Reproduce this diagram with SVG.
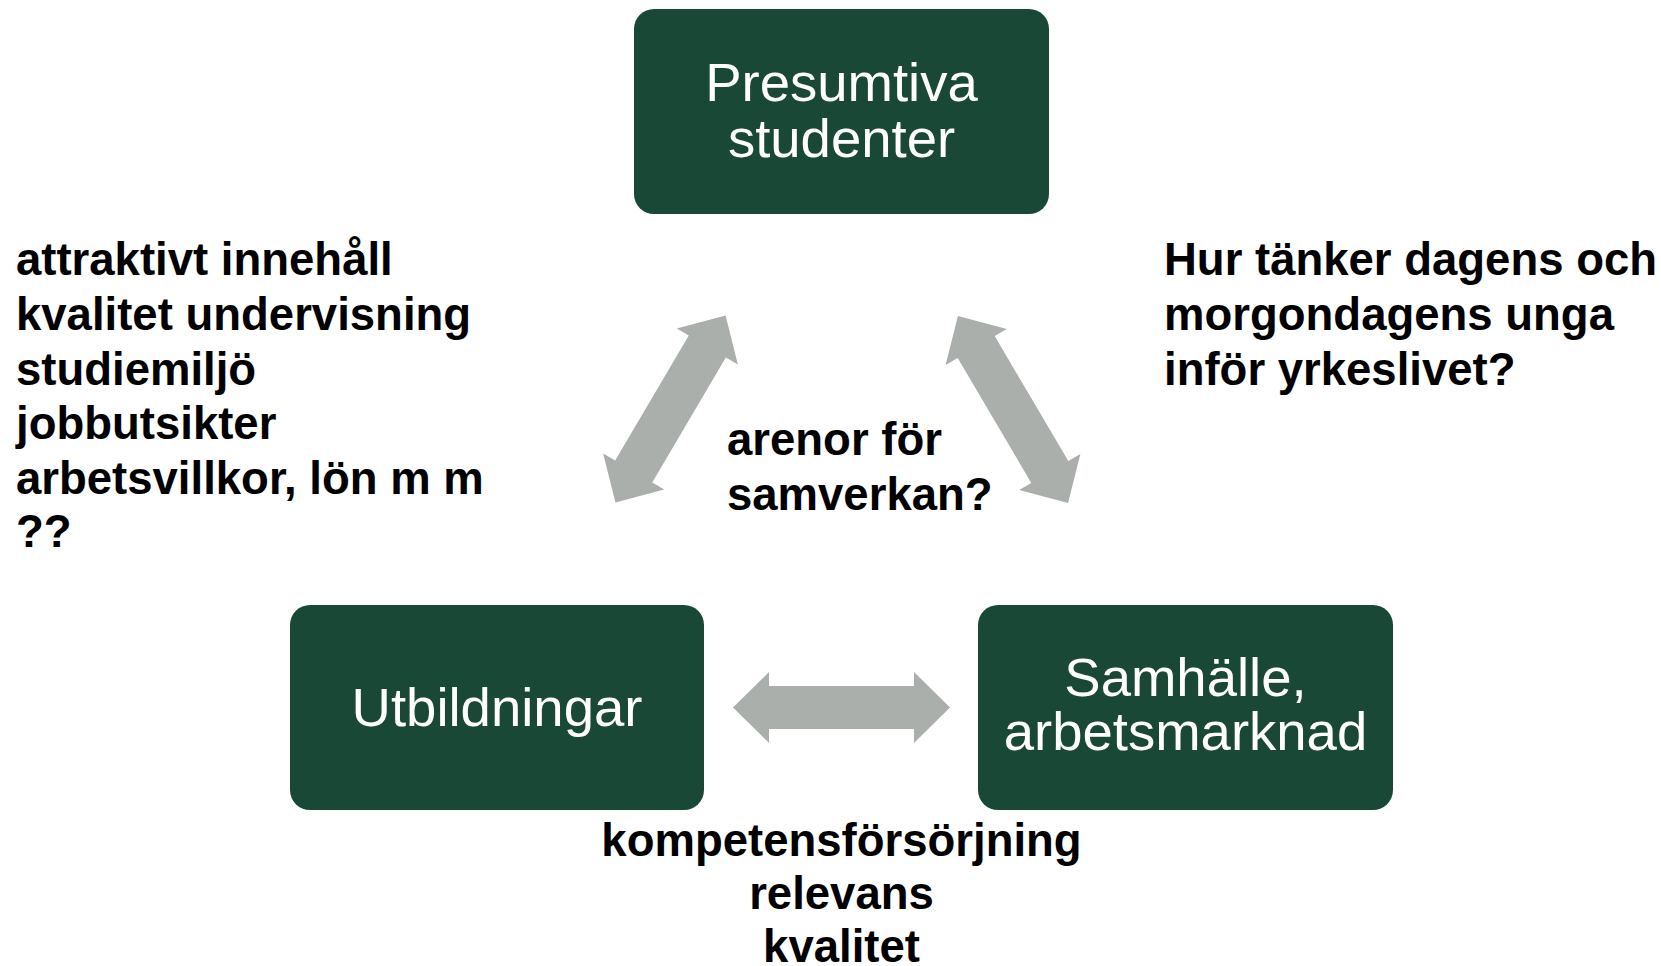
<svg xmlns="http://www.w3.org/2000/svg" width="1661" height="966" viewBox="0 0 1661 966">
  <style>
    .box { fill: #1a4836; }
    .boxtxt { font-family: "Liberation Sans", Arial, sans-serif; font-size: 54.5px; fill: #ffffff; text-anchor: middle; }
    .lbl { font-family: "Liberation Sans", Arial, sans-serif; font-size: 45.5px; font-weight: bold; fill: #000000; }
    .arrow { fill: #aaafac; }
  </style>
  <defs>
    <path id="dblarrow" d="M -108.5 0 L -72.5 -35.5 L -72.5 -21.5 L 72.5 -21.5 L 72.5 -35.5 L 108.5 0 L 72.5 35.5 L 72.5 21.5 L -72.5 21.5 L -72.5 35.5 Z"/>
  </defs>
  <rect width="1661" height="966" fill="#ffffff"/>

  <g id="connectors">
    <use href="#dblarrow" class="arrow" transform="translate(670.5,409) rotate(-59.5)"/>
    <use href="#dblarrow" class="arrow" transform="translate(1013,409.5) rotate(59.5)"/>
    <use href="#dblarrow" class="arrow" transform="translate(841.5,707.5)"/>
  </g>

  <g id="node-presumtiva">
    <rect class="box" x="634" y="9" width="415" height="205" rx="20" ry="20"/>
    <text class="boxtxt" x="841.5" y="101">Presumtiva</text>
    <text class="boxtxt" x="841.5" y="157">studenter</text>
  </g>

  <g id="node-utbildningar">
    <rect class="box" x="290" y="605" width="414" height="205" rx="20" ry="20"/>
    <text class="boxtxt" x="497" y="726">Utbildningar</text>
  </g>

  <g id="node-samhalle">
    <rect class="box" x="978" y="605" width="415" height="205" rx="20" ry="20"/>
    <text class="boxtxt" x="1185.5" y="696">Samhälle,</text>
    <text class="boxtxt" x="1185.5" y="750">arbetsmarknad</text>
  </g>

  <g id="label-left">
    <text class="lbl" x="16" y="275">attraktivt innehåll</text>
    <text class="lbl" x="16" y="330">kvalitet undervisning</text>
    <text class="lbl" x="16" y="385">studiemiljö</text>
    <text class="lbl" x="16" y="439">jobbutsikter</text>
    <text class="lbl" x="16" y="494">arbetsvillkor, lön m m</text>
    <text class="lbl" x="16" y="547">??</text>
  </g>

  <g id="label-right">
    <text class="lbl" x="1164" y="275">Hur tänker dagens och</text>
    <text class="lbl" x="1164" y="330">morgondagens unga</text>
    <text class="lbl" x="1164" y="385">inför yrkeslivet?</text>
  </g>

  <g id="label-center">
    <text class="lbl" x="727" y="455">arenor för</text>
    <text class="lbl" x="727" y="510">samverkan?</text>
  </g>

  <g id="label-bottom">
    <text class="lbl" x="841.5" y="856" text-anchor="middle">kompetensförsörjning</text>
    <text class="lbl" x="841.5" y="909" text-anchor="middle">relevans</text>
    <text class="lbl" x="841.5" y="962" text-anchor="middle">kvalitet</text>
  </g>
</svg>
